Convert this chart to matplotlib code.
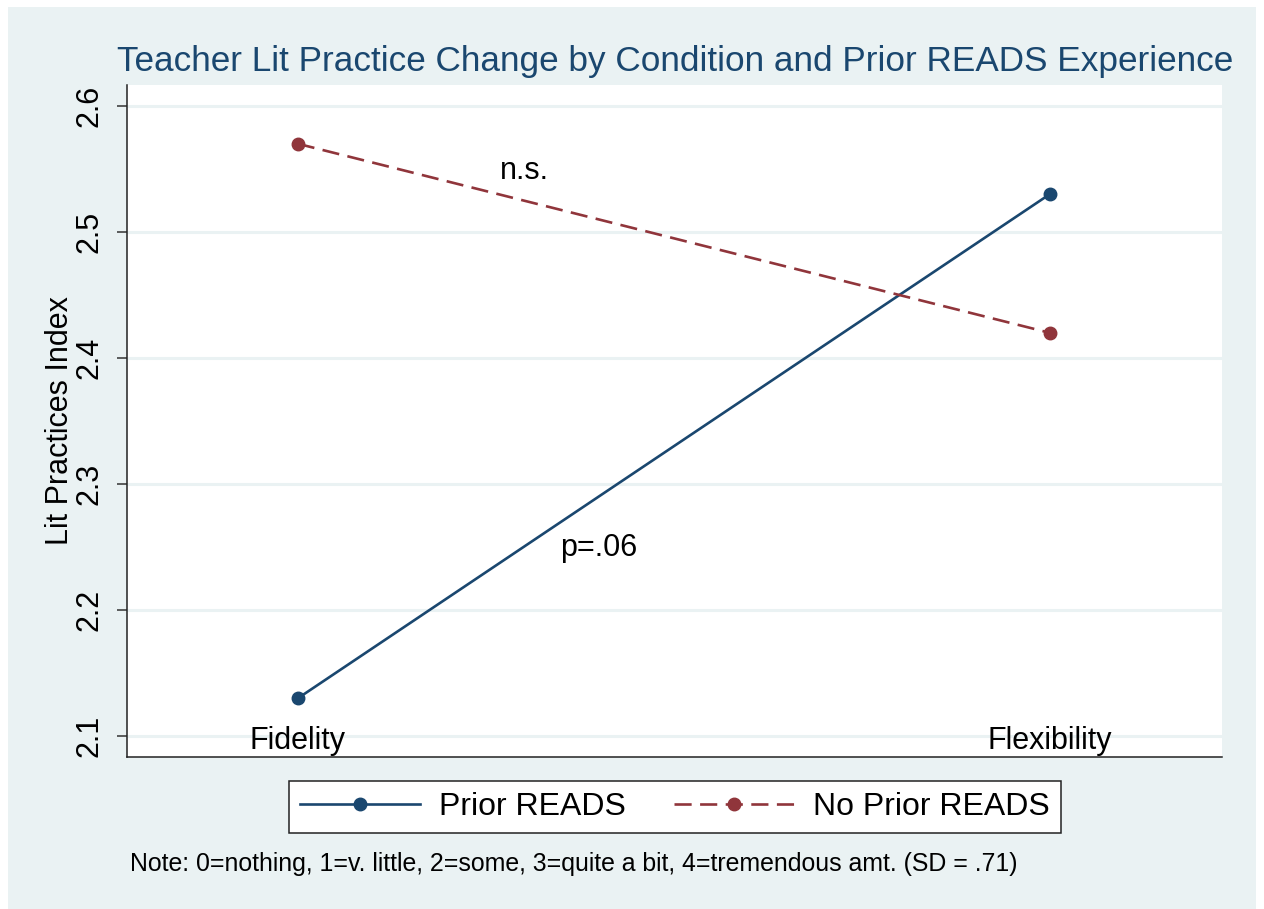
import matplotlib
matplotlib.use("Agg")
import matplotlib.pyplot as plt
from matplotlib.patches import Rectangle

# Data
conditions = ["Fidelity", "Flexibility"]
x_pos = [0, 1]
prior_reads = [2.13, 2.53]
no_prior_reads = [2.57, 2.42]
y_ticks = [2.1, 2.2, 2.3, 2.4, 2.5, 2.6]

navy = "#1a476f"
maroon = "#90353b"
bg = "#eaf2f3"

plt.rcParams["font.family"] = ["Liberation Sans", "DejaVu Sans"]

fig = plt.figure(figsize=(12.64, 9.09), dpi=100)
fig.patch.set_facecolor("white")
# Stata-style graph region
fig.patches.append(Rectangle((8 / 1264, -0.01), 1248 / 1264, 902 / 909 + 0.01,
                             transform=fig.transFigure, facecolor=bg,
                             edgecolor="none", zorder=-10))

ax = fig.add_axes([127 / 1264, 152 / 909, 1095 / 1264, 672 / 909])
ax.set_facecolor("white")

ax.set_xlim(-0.227, 1.229)
ax.set_ylim(2.0835, 2.6166)
ax.set_yticks(y_ticks)
ax.set_yticklabels([f"{t:.1f}" for t in y_ticks], rotation=90, va="center", fontsize=22)
ax.set_xticks([])
ax.tick_params(axis="y", length=7, width=1.1, color="#333333", pad=9)
ax.grid(axis="y", color=bg, linewidth=2.2, zorder=0)
ax.set_axisbelow(True)

for s in ["top", "right"]:
    ax.spines[s].set_visible(False)
for s in ["left", "bottom"]:
    ax.spines[s].set_color("#222222")
    ax.spines[s].set_linewidth(1.1)

ax.plot(x_pos, prior_reads, color=navy, lw=1.9, marker="o", markersize=9,
        label="Prior READS", zorder=3)
ax.plot(x_pos, no_prior_reads, color=maroon, lw=1.9, marker="o", markersize=9,
        dashes=(6.5, 3.2), label="No Prior READS", zorder=3)

# category labels drawn inside the plot region
for xp, lab in zip(x_pos, conditions):
    ax.text(xp, 2.096, lab, ha="center", va="center", fontsize=22)

ax.text(0.302, 2.548, "n.s.", ha="center", va="center", fontsize=22)
ax.text(0.40, 2.249, "p=.06", ha="center", va="center", fontsize=22)

ax.set_ylabel("Lit Practices Index", fontsize=22, labelpad=0)

fig.text(675 / 1264, 1 - 61 / 909,
         "Teacher Lit Practice Change by Condition and Prior READS Experience",
         ha="center", va="center", fontsize=25.3, color=navy)

leg = fig.legend(loc="center", bbox_to_anchor=(675 / 1264, 1 - 807 / 909), ncol=2,
                 fontsize=23, frameon=True, fancybox=False, framealpha=1,
                 handlelength=3.75, columnspacing=1.5, handletextpad=0.6,
                 borderpad=0.35)
leg.get_frame().set_edgecolor("#222222")
leg.get_frame().set_linewidth(1.1)
leg.get_frame().set_facecolor("white")

fig.text(130 / 1264, 1 - 864 / 909,
         "Note: 0=nothing, 1=v. little, 2=some, 3=quite a bit, 4=tremendous amt. (SD = .71)",
         ha="left", va="center", fontsize=17.9)

fig.savefig("out.png", dpi=100, facecolor=fig.get_facecolor())
